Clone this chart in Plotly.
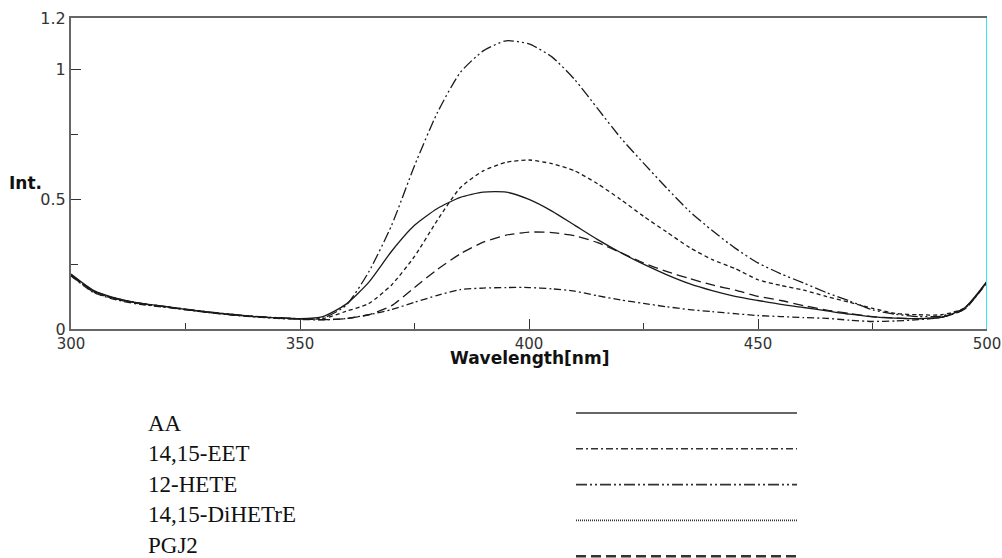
import plotly.graph_objects as go

# ---------------- data ----------------
wavelength = [300, 305, 310, 315, 320, 325, 330, 335, 340, 345, 350, 355,
              360, 365, 370, 375, 380, 385, 390, 395, 400, 405, 410, 415,
              420, 425, 430, 435, 440, 445, 450, 455, 460, 465, 470, 475,
              480, 485, 490, 495, 500]

aa = [0.212, 0.148, 0.118, 0.100, 0.088, 0.076, 0.065, 0.056, 0.048, 0.043, 0.040, 0.048,
      0.095, 0.180, 0.300, 0.400, 0.465, 0.508, 0.528, 0.528, 0.500, 0.455, 0.400, 0.345,
      0.295, 0.250, 0.210, 0.175, 0.148, 0.126, 0.110, 0.095, 0.083, 0.070, 0.057, 0.047,
      0.042, 0.040, 0.045, 0.080, 0.185]

eet_1415 = [0.205, 0.140, 0.112, 0.095, 0.085, 0.074, 0.063, 0.054, 0.047, 0.041, 0.037, 0.035,
            0.040, 0.055, 0.075, 0.103, 0.130, 0.152, 0.158, 0.160, 0.160, 0.155, 0.146, 0.128,
            0.112, 0.099, 0.086, 0.075, 0.067, 0.059, 0.052, 0.048, 0.044, 0.041, 0.034, 0.029,
            0.031, 0.036, 0.045, 0.075, 0.180]

hete_12 = [0.208, 0.145, 0.117, 0.100, 0.088, 0.077, 0.066, 0.057, 0.049, 0.044, 0.040, 0.042,
           0.090, 0.220, 0.400, 0.630, 0.835, 0.990, 1.073, 1.112, 1.100, 1.050, 0.962, 0.850,
           0.738, 0.640, 0.545, 0.455, 0.380, 0.312, 0.255, 0.213, 0.177, 0.140, 0.108, 0.074,
           0.057, 0.048, 0.050, 0.078, 0.180]

dihetre_1415 = [0.206, 0.142, 0.114, 0.097, 0.086, 0.075, 0.064, 0.055, 0.048, 0.042, 0.038, 0.040,
                0.068, 0.098, 0.170, 0.280, 0.420, 0.545, 0.610, 0.643, 0.652, 0.638, 0.610, 0.560,
                0.500, 0.435, 0.375, 0.315, 0.268, 0.233, 0.190, 0.168, 0.150, 0.125, 0.103, 0.080,
                0.060, 0.055, 0.055, 0.080, 0.180]

pgj2 = [0.210, 0.146, 0.116, 0.099, 0.087, 0.076, 0.065, 0.056, 0.048, 0.043, 0.039, 0.036,
        0.040, 0.055, 0.090, 0.160, 0.230, 0.290, 0.335, 0.362, 0.374, 0.372, 0.360, 0.333,
        0.295, 0.255, 0.222, 0.195, 0.170, 0.150, 0.126, 0.110, 0.090, 0.073, 0.060, 0.048,
        0.042, 0.040, 0.045, 0.075, 0.182]

series_names = ["AA", "14,15-EET", "12-HETE", "14,15-DiHETrE", "PGJ2"]
series_values = [aa, eet_1415, hete_12, dihetre_1415, pgj2]
series_dash = ["solid", "7px,3px,2px,3px", "11px,3px,2px,3px,2px,3px", "4px,3px", "10px,5px"]

x_tick_vals = [300, 350, 400, 450, 500]
y_tick_vals = [0, 0.5, 1, 1.2]
y_tick_text = ["0", "0.5", "1", "1.2"]

# ---------------- figure ----------------
W, H = 1002, 558
left_px, right_px, top_px, bottom_px = 71, 987, 18, 329
leg_top_px = 370

fig = go.Figure()

line_color = "#1a1a1a"
for name, vals, dash in zip(series_names, series_values, series_dash):
    fig.add_trace(go.Scatter(
        x=wavelength, y=vals, mode="lines", name=name,
        line=dict(color=line_color, width=1.3, dash=dash, shape="spline", smoothing=0.6),
        showlegend=False, xaxis="x", yaxis="y"))

# legend samples (on a hidden pixel-like axis below the plot)
leg_line_x = [576, 797]
leg_line_y0, leg_line_step = 413, 35.8
for i, (name, dash) in enumerate(zip(series_names, series_dash)):
    yy = leg_line_y0 + i * leg_line_step
    d = dash if name != "14,15-DiHETrE" else "1px,1px"
    w = 1.6 if name != "PGJ2" else 2.6
    fig.add_trace(go.Scatter(
        x=leg_line_x, y=[yy, yy], mode="lines", name=name + " (legend)",
        line=dict(color="#333333", width=w, dash=d),
        showlegend=False, hoverinfo="skip", xaxis="x2", yaxis="y2"))

x_axis_font = dict(family="DejaVu Sans, Liberation Sans, sans-serif", size=15, color="#333333")
y_axis_font = dict(family="DejaVu Sans, Liberation Sans, sans-serif", size=16, color="#333333")

fig.update_layout(
    width=W, height=H,
    margin=dict(l=0, r=0, t=0, b=0, autoexpand=False),
    paper_bgcolor="white", plot_bgcolor="rgba(0,0,0,0)",
    showlegend=False,
    xaxis=dict(
        domain=[left_px / W, right_px / W],
        range=[300, 500], tickvals=x_tick_vals,
        ticks="inside", ticklen=10, tickwidth=1.3, tickcolor="#333333",
        minor=dict(dtick=25, tick0=300, ticks="inside", ticklen=6, tickwidth=1.2, tickcolor="#333333", showgrid=False),
        showgrid=False, zeroline=False,
        showline=True, mirror=True, linecolor="#666666", linewidth=2,
        tickfont=x_axis_font, anchor="y", automargin=False, ticklabeloverflow="allow",
    ),
    yaxis=dict(
        domain=[1 - bottom_px / H, 1 - top_px / H],
        range=[0, 1.2], tickvals=y_tick_vals, ticktext=y_tick_text,
        ticks="inside", ticklen=10, tickwidth=1.3, tickcolor="#333333",
        minor=dict(tickvals=[0.25, 0.75], ticks="inside", ticklen=7, tickwidth=1.2, tickcolor="#333333", showgrid=False),
        showgrid=False, zeroline=False,
        showline=True, mirror=False, linecolor="#666666", linewidth=2,
        tickfont=y_axis_font, anchor="x", automargin=False, ticklabeloverflow="allow",
    ),
    xaxis2=dict(domain=[0, 1], range=[0, W], visible=False, anchor="y2", fixedrange=True, automargin=False),
    yaxis2=dict(domain=[0, 1 - leg_top_px / H], range=[H, leg_top_px], visible=False, anchor="x2",
                fixedrange=True, automargin=False),
)

# right cyan border
fig.add_shape(type="line", xref="x", yref="y domain", x0=500, x1=500, y0=0, y1=1,
              line=dict(color="#33E6F0", width=2))

title_font = dict(family="DejaVu Sans, Liberation Sans, sans-serif", size=17, color="#111111")
fig.add_annotation(text="<b>Int.</b>", xref="paper", yref="paper", x=7 / W, y=1 - 183 / H,
                   xanchor="left", yanchor="middle", showarrow=False, font=title_font)
fig.add_annotation(text="<b>Wavelength[nm]</b>", xref="paper", yref="paper", x=529 / W, y=1 - 358 / H,
                   xanchor="center", yanchor="middle", showarrow=False, font=title_font)

legend_font = dict(family="Liberation Serif, Times New Roman, serif", size=23, color="#111111")
for i, name in enumerate(series_names):
    fig.add_annotation(text=name, xref="paper", yref="paper", x=146 / W, y=1 - (423 + i * 30.6) / H,
                       xanchor="left", yanchor="middle", showarrow=False, font=legend_font)

fig.write_html("out.html")
